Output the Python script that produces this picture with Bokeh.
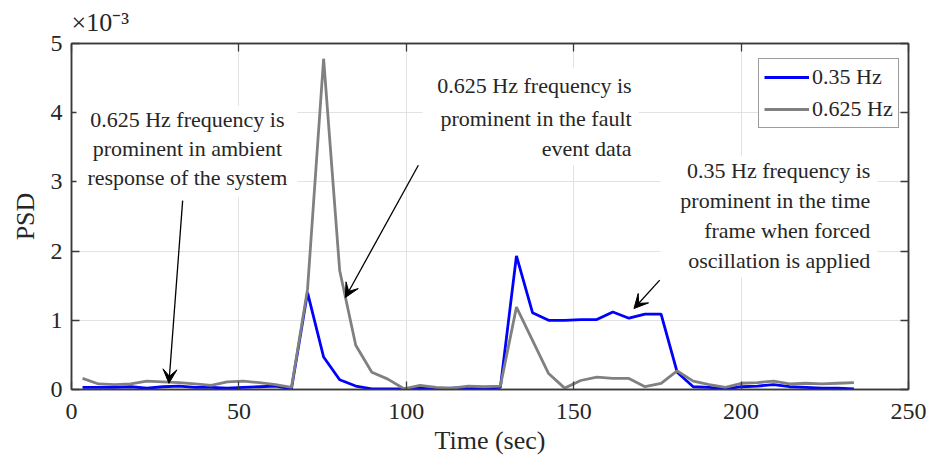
from bokeh.plotting import figure
from bokeh.models import (Range1d, LinearAxis, Label, Arrow, VeeHead,
                          BoxAnnotation, Legend, LegendItem, CustomLabelingPolicy)
from bokeh.embed import file_html
from bokeh.resources import INLINE

# ---- data (PSD values in units of 1e-3) ----
time_s = [3.3, 8.1, 12.9, 17.7, 22.5, 27.3, 32.1, 36.9, 41.7, 46.5,
          51.3, 56.1, 60.9, 65.7, 70.5, 75.3, 80.1, 84.9, 89.7, 94.5,
          99.3, 104.1, 108.9, 113.7, 118.5, 123.3, 128.1, 132.9, 137.7, 142.5,
          147.3, 152.1, 156.9, 161.7, 166.5, 171.3, 176.1, 180.9, 185.7, 190.5,
          195.3, 200.1, 204.9, 209.7, 214.5, 219.3, 224.1, 228.9, 233.7]
psd_035 = [0.03, 0.03, 0.03, 0.04, 0.02, 0.04, 0.05, 0.03, 0.03, 0.02,
           0.03, 0.04, 0.05, 0.01, 1.40, 0.47, 0.14, 0.05, 0.01, 0.01,
           0.01, 0.02, 0.01, 0.02, 0.03, 0.02, 0.03, 1.93, 1.11, 1.00,
           1.00, 1.01, 1.01, 1.12, 1.03, 1.09, 1.09, 0.25, 0.04, 0.03,
           0.01, 0.04, 0.05, 0.07, 0.04, 0.03, 0.02, 0.02, 0.01]
psd_0625 = [0.16, 0.08, 0.07, 0.08, 0.12, 0.11, 0.10, 0.08, 0.06, 0.11,
            0.12, 0.10, 0.07, 0.03, 1.45, 4.78, 1.72, 0.64, 0.25, 0.15,
            0.01, 0.06, 0.03, 0.02, 0.05, 0.04, 0.05, 1.19, 0.71, 0.23,
            0.02, 0.13, 0.18, 0.16, 0.16, 0.04, 0.09, 0.27, 0.12, 0.07,
            0.03, 0.09, 0.10, 0.12, 0.08, 0.09, 0.08, 0.09, 0.10]
series_labels = ["0.35 Hz", "0.625 Hz"]
x_ticks = [0, 50, 100, 150, 200, 250]
y_ticks = [0, 1, 2, 3, 4, 5]

FONT = "Liberation Serif"
AX = "#3a3a3a"
TXT = "#262626"

p = figure(frame_width=837, frame_height=346, output_backend="svg",
           toolbar_location=None,
           x_range=Range1d(0, 250), y_range=Range1d(0, 5),
           min_border_left=71, min_border_right=20, min_border_top=43,
           min_border_bottom=69)
p.background_fill_color = "white"
p.border_fill_color = "white"
p.outline_line_color = AX
p.outline_line_width = 1.5

p.title.text = "×10⁻³"
p.title.align = "left"
p.title.text_font = FONT
p.title.text_font_style = "normal"
p.title.text_font_size = "26px"
p.title.text_color = TXT
p.title.standoff = 5

p.xgrid.grid_line_color = "#e2e2e2"
p.ygrid.grid_line_color = "#e2e2e2"
p.xgrid.ticker = x_ticks
p.ygrid.ticker = y_ticks

r1 = p.line(time_s, psd_035, line_color="#0000ff", line_width=2.8)
r2 = p.line(time_s, psd_0625, line_color="#808080", line_width=2.8)

hide_all = CustomLabelingPolicy(code="""
const ids = Array.from(indices)
for (const i of ids) { indices.unset(i) }
return indices
""")

def style_axis(ax, ticks, show_labels=True):
    ax.ticker = ticks
    ax.minor_tick_line_color = None
    ax.major_tick_in = 8
    ax.major_tick_out = 0
    ax.major_tick_line_color = AX
    ax.major_tick_line_width = 1.3
    ax.axis_line_color = AX
    ax.axis_line_width = 1.5
    ax.major_label_text_font = FONT
    ax.major_label_text_color = TXT
    if show_labels:
        ax.major_label_text_font_size = "24px"
    else:
        ax.major_label_text_font_size = "1px"
        ax.major_label_standoff = 0
        ax.major_label_policy = hide_all

style_axis(p.xaxis[0], x_ticks)
style_axis(p.yaxis[0], y_ticks)
p.xaxis.major_label_standoff = 14
p.yaxis.major_label_standoff = 9
p.xaxis.axis_label = "Time (sec)"
p.yaxis.axis_label = "PSD"
for ax in (p.xaxis[0], p.yaxis[0]):
    ax.axis_label_text_font = FONT
    ax.axis_label_text_font_style = "normal"
    ax.axis_label_text_font_size = "26px"
    ax.axis_label_text_color = TXT
p.xaxis.axis_label_standoff = 4
p.yaxis.axis_label_standoff = 8

top_ax = LinearAxis()
style_axis(top_ax, x_ticks, show_labels=False)
p.add_layout(top_ax, "above")
right_ax = LinearAxis()
style_axis(right_ax, y_ticks, show_labels=False)
p.add_layout(right_ax, "right")

# annotation boxes (white background)
for (l, r, t, b) in [(1.5, 67.5, 4.10, 2.77), (104.8, 169.4, 4.65, 3.24),
                     (175.9, 240.7, 3.38, 1.62)]:
    p.add_layout(BoxAnnotation(left=l, right=r, top=t, bottom=b, fill_color="white",
                               fill_alpha=1.0, line_color=None))

ann = [
    (34.6, "center", [(3.90, "0.625 Hz frequency is"), (3.48, "prominent in ambient"),
                      (3.06, "response of the system")]),
    (167.3, "right", [(4.39, "0.625 Hz frequency is"), (3.92, "prominent in the fault"),
                      (3.48, "event data")]),
    (238.6, "right", [(3.16, "0.35 Hz frequency is"), (2.73, "prominent in the time"),
                      (2.30, "frame when forced"), (1.86, "oscillation is applied")]),
]
for x, align, lines in ann:
    for y, t in lines:
        p.add_layout(Label(x=x, y=y, text=t, text_font=FONT, text_font_size="22px",
                           text_color=TXT, text_align=align, text_baseline="middle"))

for (xs, ys, xe, ye) in [(33.2, 2.73, 29.1, 0.09), (103.6, 3.24, 81.8, 1.33),
                         (175.7, 1.58, 168.0, 1.17)]:
    p.add_layout(Arrow(end=VeeHead(size=14, fill_color="black", line_color="black"),
                       x_start=xs, y_start=ys, x_end=xe, y_end=ye,
                       line_color="black", line_width=1.3))

legend = Legend(items=[LegendItem(label=series_labels[0], renderers=[r1]),
                       LegendItem(label=series_labels[1], renderers=[r2])],
                location=(687, 261))
legend.label_text_font = FONT
legend.label_text_font_size = "22px"
legend.label_text_color = TXT
legend.glyph_width = 45
legend.glyph_height = 22
legend.label_standoff = 3
legend.padding = 5
legend.spacing = 6
legend.margin = 0
legend.border_line_color = AX
legend.border_line_width = 1.2
legend.background_fill_color = "white"
legend.background_fill_alpha = 1.0
p.add_layout(legend)

open("out.html", "w").write(file_html(p, INLINE))
